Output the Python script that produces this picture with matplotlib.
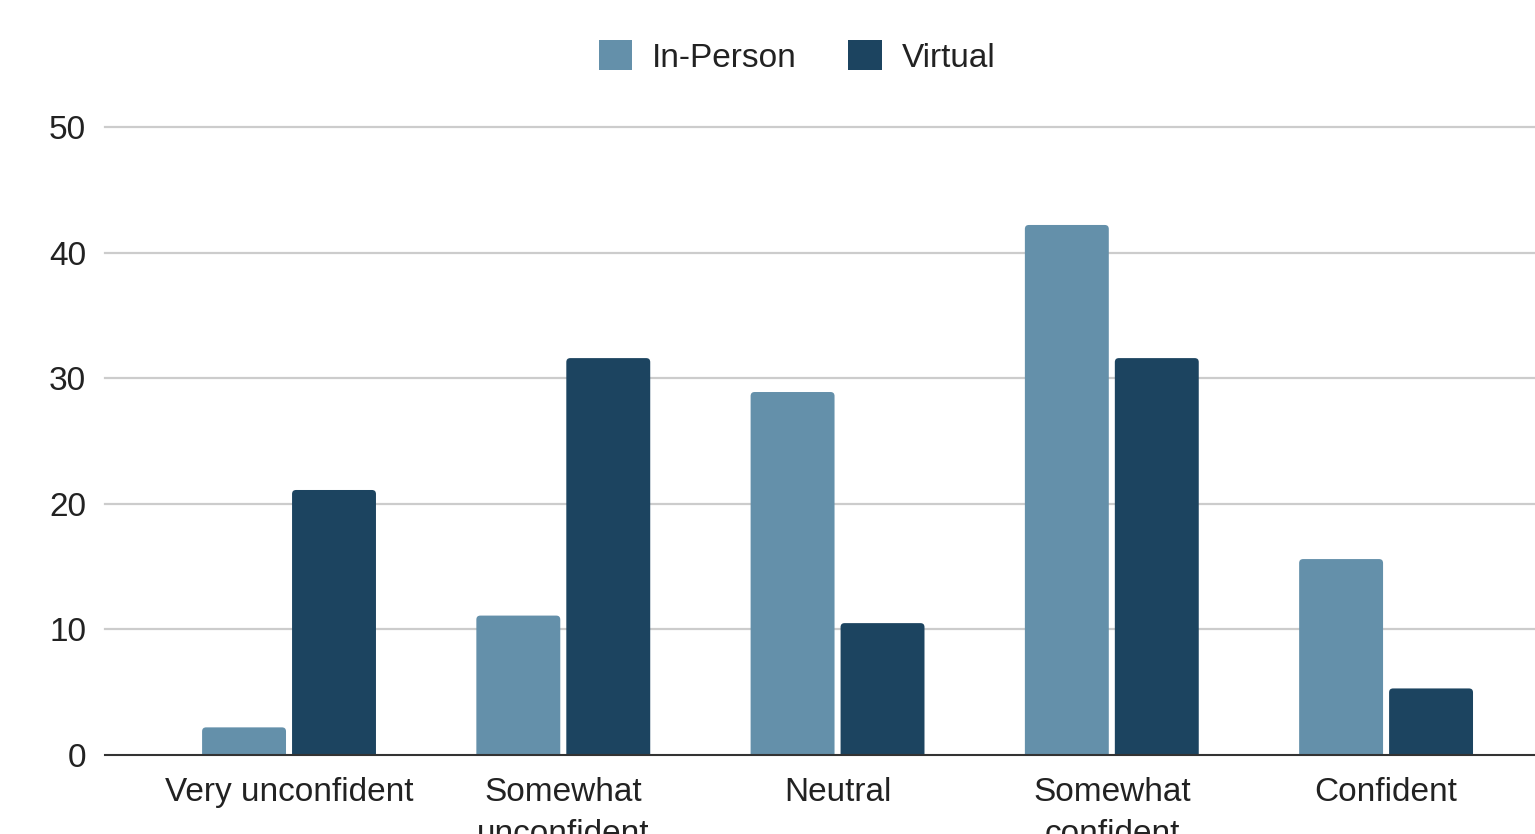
import numpy as np
import matplotlib
matplotlib.use("Agg")
import matplotlib.pyplot as plt
from matplotlib.patches import FancyBboxPatch, Patch

plt.rcParams['font.family'] = ['Liberation Sans', 'DejaVu Sans']

categories = ["Very unconfident", "Somewhat\nunconfident", "Neutral",
              "Somewhat\nconfident", "Confident"]
in_person = [2.2, 11.1, 28.9, 42.2, 15.6]
virtual = [21.1, 31.6, 10.5, 31.6, 5.3]
series_names = ["In-Person", "Virtual"]
yticks = [0, 10, 20, 30, 40, 50]

c_in = "#6490AA"
c_vi = "#1C4460"
txt = "#222222"

W, H = 1535, 834
fig = plt.figure(figsize=(W / 100, H / 100), dpi=100)
ax = fig.add_axes([105 / W, (H - 755) / H, (W - 105) / W, (755 - 127) / H])

x = np.arange(len(categories))
bw = 0.306
off = 0.164

# rounded-top bars: boxes start below zero so the bottom corners get clipped
r_x = 4 / 274.25
r_y = 4 / 12.56
for vals, dx, col in [(in_person, -off, c_in), (virtual, off, c_vi)]:
    for xi, v in zip(x, vals):
        p = FancyBboxPatch((xi + dx - bw / 2 + r_x, -2 + r_y), bw - 2 * r_x, v + 2 - 2 * r_y,
                           boxstyle=f"round,pad={r_x}", mutation_aspect=r_y / r_x,
                           facecolor=col, edgecolor="none", zorder=3)
        ax.add_patch(p)

ax.set_xlim(-0.671, 4.543)
ax.set_ylim(0, 50)

for t in yticks[1:]:
    ax.axhline(t, color="#cccccc", lw=1.6, zorder=1, clip_on=False)

ax.set_yticks(yticks)
ax.set_yticklabels([str(t) for t in yticks])
ax.set_xticks(x)
ax.set_xticklabels(categories, linespacing=1.45, va="top")
ax.tick_params(axis="y", length=0, pad=13.5, labelsize=24, labelcolor=txt)
ax.tick_params(axis="x", length=0, pad=16, labelsize=24, labelcolor=txt)

for s in ["top", "right", "left"]:
    ax.spines[s].set_visible(False)
ax.spines["bottom"].set_color("#333333")
ax.spines["bottom"].set_linewidth(1.5)
ax.spines["bottom"].set_zorder(4)

handles = [Patch(facecolor=c_in), Patch(facecolor=c_vi)]
fig.legend(handles, series_names, loc="center", bbox_to_anchor=(797 / W, 1 - 57 / H),
           ncol=2, frameon=False, fontsize=24, labelcolor=txt,
           handlelength=1.0, handleheight=1.0, handletextpad=0.6,
           columnspacing=1.55)

fig.savefig("out.png", dpi=100, facecolor="white")
